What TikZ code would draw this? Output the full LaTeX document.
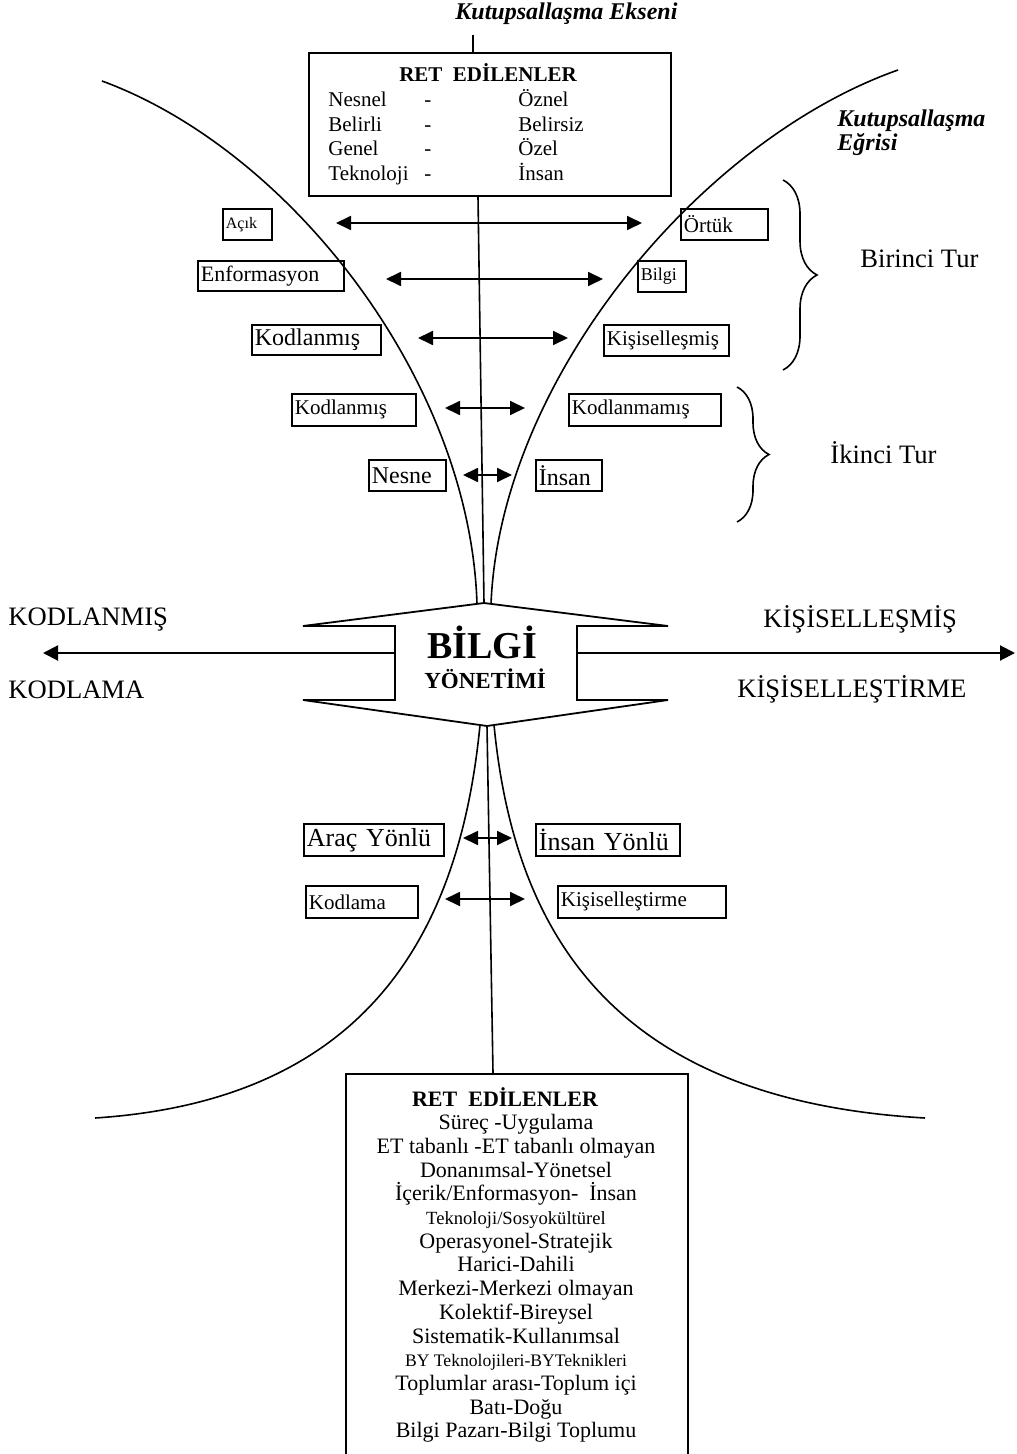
\documentclass[tikz,border=0pt]{standalone}
\usepackage{fontspec}
\setmainfont{Liberation Serif}
\usetikzlibrary{arrows.meta,decorations.pathreplacing}
\newcommand{\setsz}[1]{\fontsize{#1}{#1}\selectfont}
\begin{document}
\begin{tikzpicture}[x=0.5pt,y=-0.5pt,
  every node/.style={inner sep=0pt},
  boxlbl/.style={draw, line width=0.9pt, inner xsep=1.5pt, inner ysep=0pt, align=left, anchor=north west},
  frame/.style={draw, line width=1pt, anchor=north west},
  curve/.style={line width=0.8pt},
  axisline/.style={line width=0.8pt},
  dbl/.style={line width=0.9pt, {Triangle[length=7.5pt,width=7pt]}-{Triangle[length=7.5pt,width=7pt]}},
  bigarrow/.style={line width=1pt, -{Triangle[length=7.5pt,width=7.5pt]}},
  curlybr/.style={decorate, decoration={brace, amplitude=#1}, line width=0.8pt},
  bi/.style={font=\bfseries\itshape\setsz{12}},
  big/.style={font=\setsz{13.3}}
]
\useasboundingbox (0,0) rectangle (1016,1454);
\clip (0,0) rectangle (1016,1454);

% ---------- polarisation axis and upper list ----------
\node[bi, anchor=base west] (axtitle) at (455,20) {Kutupsallaşma Ekseni};
\node[frame, minimum width=181pt, minimum height=71.5pt] (topbox) at (308,52) {};
\coordinate (tick) at (473,35);
\draw[axisline] (tick) -- (tick |- topbox.north);

\node[anchor=base, font=\bfseries\setsz{10.5}] (tophead) at (488,82) {RET\enspace EDİLENLER};
\foreach \l/\r [count=\i from 0] in {Nesnel/Öznel, Belirli/Belirsiz, Genel/Özel, Teknoloji/İnsan}{
  \node[anchor=base west, font=\setsz{10.5}] (tl\i) at (328,107+24.4*\i) {\l};
  \node[anchor=base west, font=\setsz{10.5}] (td\i) at (424,107+24.4*\i) {-};
  \node[anchor=base west, font=\setsz{10.5}] (tr\i) at (518,107+24.4*\i) {\r};
}

\node[bi, anchor=base west] (egri1) at (837,127) {Kutupsallaşma};
\node[bi, anchor=base west] (egri2) at (837,151) {Eğrisi};

% ---------- polarisation curves ----------
\coordinate (cTL) at (102,81);   \coordinate (cTLe) at (477,604);
\coordinate (cTR) at (898,70);   \coordinate (cTRe) at (491,604);
\coordinate (cBLs) at (480,725); \coordinate (cBL) at (95,1118);
\coordinate (cBRs) at (494,725); \coordinate (cBR) at (925,1118);
\draw[curve] (cTL) .. controls (290,150) and (470,380) .. (cTLe);
\draw[curve] (cTR) .. controls (700,140) and (500,380) .. (cTRe);
\draw[curve] (cBLs) .. controls (460,930) and (370,1100) .. (cBL);
\draw[curve] (cBRs) .. controls (514,930) and (610,1100) .. (cBR);

% ---------- central shape ----------
\coordinate (hT) at (484,603);
\coordinate (hUL) at (303,626);
\coordinate (hIUL) at (395,626);
\coordinate (hILL) at (395,700);
\coordinate (hLL) at (303,700);
\coordinate (hB) at (487,726);
\coordinate (hLR) at (668,700);
\coordinate (hILR) at (577,700);
\coordinate (hIUR) at (577,626);
\coordinate (hUR) at (668,626);
\draw[line width=0.9pt] (hT) -- (hUL) -- (hIUL) -- (hILL) -- (hLL) -- (hB) -- (hLR) -- (hILR) -- (hIUR) -- (hUR) -- cycle;
\node[anchor=base, font=\bfseries\setsz{19}] (bilgi) at (482,658) {BİLGİ};
\node[anchor=base, font=\bfseries\setsz{11.5}] (yonetim) at (485,688) {YÖNETİMİ};

\draw[axisline] (topbox.south -| 478,0) -- (hT);

% ---------- main direction arrows ----------
\coordinate (hL) at (395,653);
\coordinate (hR) at (577,653);
\coordinate (tipL) at (43,653);
\coordinate (tipR) at (1015,653);
\draw[bigarrow] (hL) -- (tipL);
\draw[bigarrow] (hR) -- (tipR);
\node[big, anchor=base west] (kodlanmis) at (8,625) {KODLANMIŞ};
\node[big, anchor=base west] (kodlama) at (8,698) {KODLAMA};
\node[big, anchor=base west] (kisisel) at (763,627) {KİŞİSELLEŞMİŞ};
\node[big, anchor=base west] (kisiselt) at (737,697) {KİŞİSELLEŞTİRME};

% ---------- first round ----------
\node[boxlbl, font=\setsz{8}, text width=21.5pt, minimum height=15.5pt] (acik) at (222,208) {Açık};
\node[boxlbl, font=\setsz{10.5}, text width=40.5pt, minimum height=15.5pt] (ortuk) at (680,208) {Örtük};
\node[boxlbl, font=\setsz{11}, text width=70pt, minimum height=15pt] (enf) at (197,260) {Enformasyon};
\node[boxlbl, font=\setsz{9}, text width=21pt, minimum height=15.5pt] (bilgibox) at (637,260) {Bilgi};
\node[boxlbl, font=\setsz{12}, text width=61.5pt, minimum height=15pt] (kod1) at (251,324) {Kodlanmış};
\node[boxlbl, font=\setsz{10.5}, text width=59.5pt, minimum height=15.5pt] (kis1) at (603,324) {Kişiselleşmiş};

\coordinate (a1l) at (336,223); \coordinate (a1r) at (642,223);
\coordinate (a2l) at (386,279); \coordinate (a2r) at (603,279);
\coordinate (a3l) at (418,338); \coordinate (a3r) at (568,338);
\draw[dbl] (a1l) -- (a1r);
\draw[dbl] (a2l) -- (a2r);
\draw[dbl] (a3l) -- (a3r);

\coordinate (b1t) at (783,180); \coordinate (b1b) at (783,370);
\draw[curlybr=17pt] (b1t) -- (b1b);
\node[big, anchor=base west] (birinci) at (860,268) {Birinci Tur};

% ---------- second round ----------
\node[boxlbl, font=\setsz{10.5}, text width=59pt, minimum height=16pt] (kod2) at (291,393) {Kodlanmış};
\node[boxlbl, font=\setsz{10.5}, text width=73pt, minimum height=16pt] (kodm) at (568,393) {Kodlanmamış};
\node[boxlbl, font=\setsz{12}, text width=35.5pt, minimum height=15.5pt] (nesne) at (368,459) {Nesne};
\node[boxlbl, font=\setsz{12}, text width=30pt, minimum height=15.5pt] (insan) at (535,459) {İnsan};

\coordinate (a4l) at (445,408); \coordinate (a4r) at (525,408);
\coordinate (a5l) at (463,475); \coordinate (a5r) at (512,475);
\draw[dbl] (a4l) -- (a4r);
\draw[dbl] (a5l) -- (a5r);

\coordinate (b2t) at (737,387); \coordinate (b2b) at (737,522);
\draw[curlybr=16pt] (b2t) -- (b2b);
\node[big, anchor=base west] (ikinci) at (830,463) {İkinci Tur};

% ---------- lower part ----------
\node[boxlbl, font=\setsz{13}, text width=67pt, minimum height=16pt] (arac) at (303,823) {Araç Yönlü};
\node[boxlbl, font=\setsz{13}, text width=69pt, minimum height=16pt] (insy) at (535,823) {İnsan Yönlü};
\node[boxlbl, font=\setsz{10.5}, text width=53pt, minimum height=16pt] (kodl) at (305,885) {Kodlama};
\node[boxlbl, font=\setsz{10.5}, text width=81pt, minimum height=16pt] (kisl) at (557,885) {Kişiselleştirme};

\coordinate (a6l) at (463,838); \coordinate (a6r) at (512,838);
\coordinate (a7l) at (445,899); \coordinate (a7r) at (525,899);
\draw[dbl] (a6l) -- (a6r);
\draw[dbl] (a7l) -- (a7r);

% ---------- lower list ----------
\node[frame, minimum width=171pt, minimum height=205pt] (botbox) at (345,1073) {};
\draw[axisline] (hB) -- (botbox.north -| 493,0);

\node[anchor=base, font=\bfseries\setsz{11}] (bothead) at (505,1106) {RET\enspace EDİLENLER};
\foreach \t/\s [count=\i] in {
  {Süreç -Uygulama}/11,
  {ET tabanlı -ET tabanlı olmayan}/11,
  {Donanımsal-Yönetsel}/11,
  {İçerik/Enformasyon-\ \ İnsan}/11,
  {Teknoloji/Sosyokültürel}/9.3,
  {Operasyonel-Stratejik}/11,
  {Harici-Dahili}/11,
  {Merkezi-Merkezi olmayan}/11,
  {Kolektif-Bireysel}/11,
  {Sistematik-Kullanımsal}/11,
  {BY Teknolojileri-BYTeknikleri}/8.8,
  {Toplumlar arası-Toplum içi}/11,
  {Batı-Doğu}/11,
  {Bilgi Pazarı-Bilgi Toplumu}/11}{
  \node[anchor=base, font=\setsz{\s}] (bl\i) at (516,1106+23.7*\i) {\t};
}
\end{tikzpicture}
\end{document}
